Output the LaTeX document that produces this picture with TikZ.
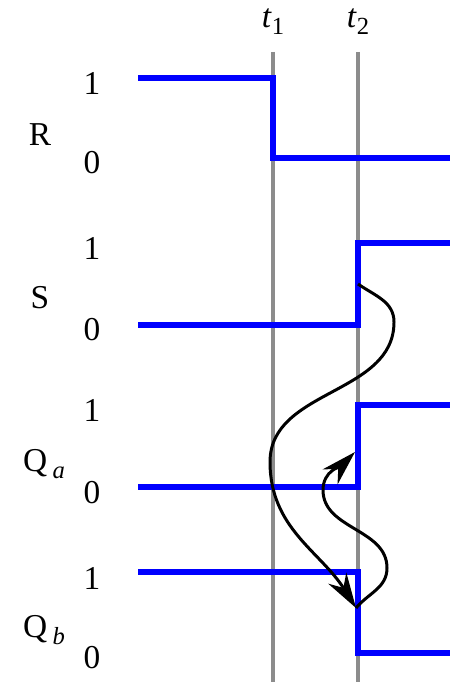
\documentclass[tikz,border=0pt]{standalone}
\usepackage{fontspec}
\setmainfont{Liberation Serif}
\usetikzlibrary{arrows.meta}

\newcommand{\sub}[1]{\raisebox{-0.45ex}{\fontsize{14}{15}\selectfont #1}}

\begin{document}
\begin{tikzpicture}[x=0.02cm, y=-0.02cm,
  sig/.style={blue, line width=3.3pt, line join=miter},
  tline/.style={gray!90, line width=1.8pt},
  lbl/.style={font=\fontsize{19}{21}\selectfont, inner sep=0pt},
  cause/.style={black, line width=1.7pt, -{Stealth[length=20pt, width=12pt]}}]
  \useasboundingbox (0,0) rectangle (450,682);
  % time markers
  \draw[tline] (273,52) -- (273,682);
  \draw[tline] (358,52) -- (358,682);
  \node[lbl] (t1) at (273,22) {\textit{t}\sub{1}};
  \node[lbl] (t2) at (358,22) {\textit{t}\sub{2}};
  % signals
  \draw[sig] (138,78) -- (273,78) -- (273,158) -- (450,158);
  \draw[sig] (138,325) -- (358,325) -- (358,243) -- (450,243);
  \draw[sig] (138,487) -- (358,487) -- (358,405) -- (450,405);
  \draw[sig] (138,572) -- (358,572) -- (358,653) -- (450,653);
  % levels and names
  \foreach \y/\n in {83/r1, 248/s1, 410/a1, 578/b1} \node[lbl] (\n) at (92,\y) {1};
  \foreach \y/\n in {163/r0, 330/s0, 493/a0, 658/b0} \node[lbl] (\n) at (92,\y) {0};
  \node[lbl] (R) at (40,135) {R};
  \node[lbl] (S) at (40,298) {S};
  \node[lbl] (Qa) at (44,464) {Q\,\sub{\textit{a}}};
  \node[lbl] (Qb) at (44,630) {Q\,\sub{\textit{b}}};
  % causal arrows
  \coordinate (sup) at (358,284);
  \coordinate (qbdn) at (356,608);
  \coordinate (qaup) at (355,452);
  \draw[cause] (sup) to[out=-35,in=90] (394,322) to[out=-90,in=90] (270,462)
    to[out=-90,in=122] (qbdn);
  \draw[cause] (qbdn) to[out=50,in=-90] (387,568) to[out=90,in=-90] (323,490)
    to[out=90,in=225] (qaup);
\end{tikzpicture}
\end{document}
